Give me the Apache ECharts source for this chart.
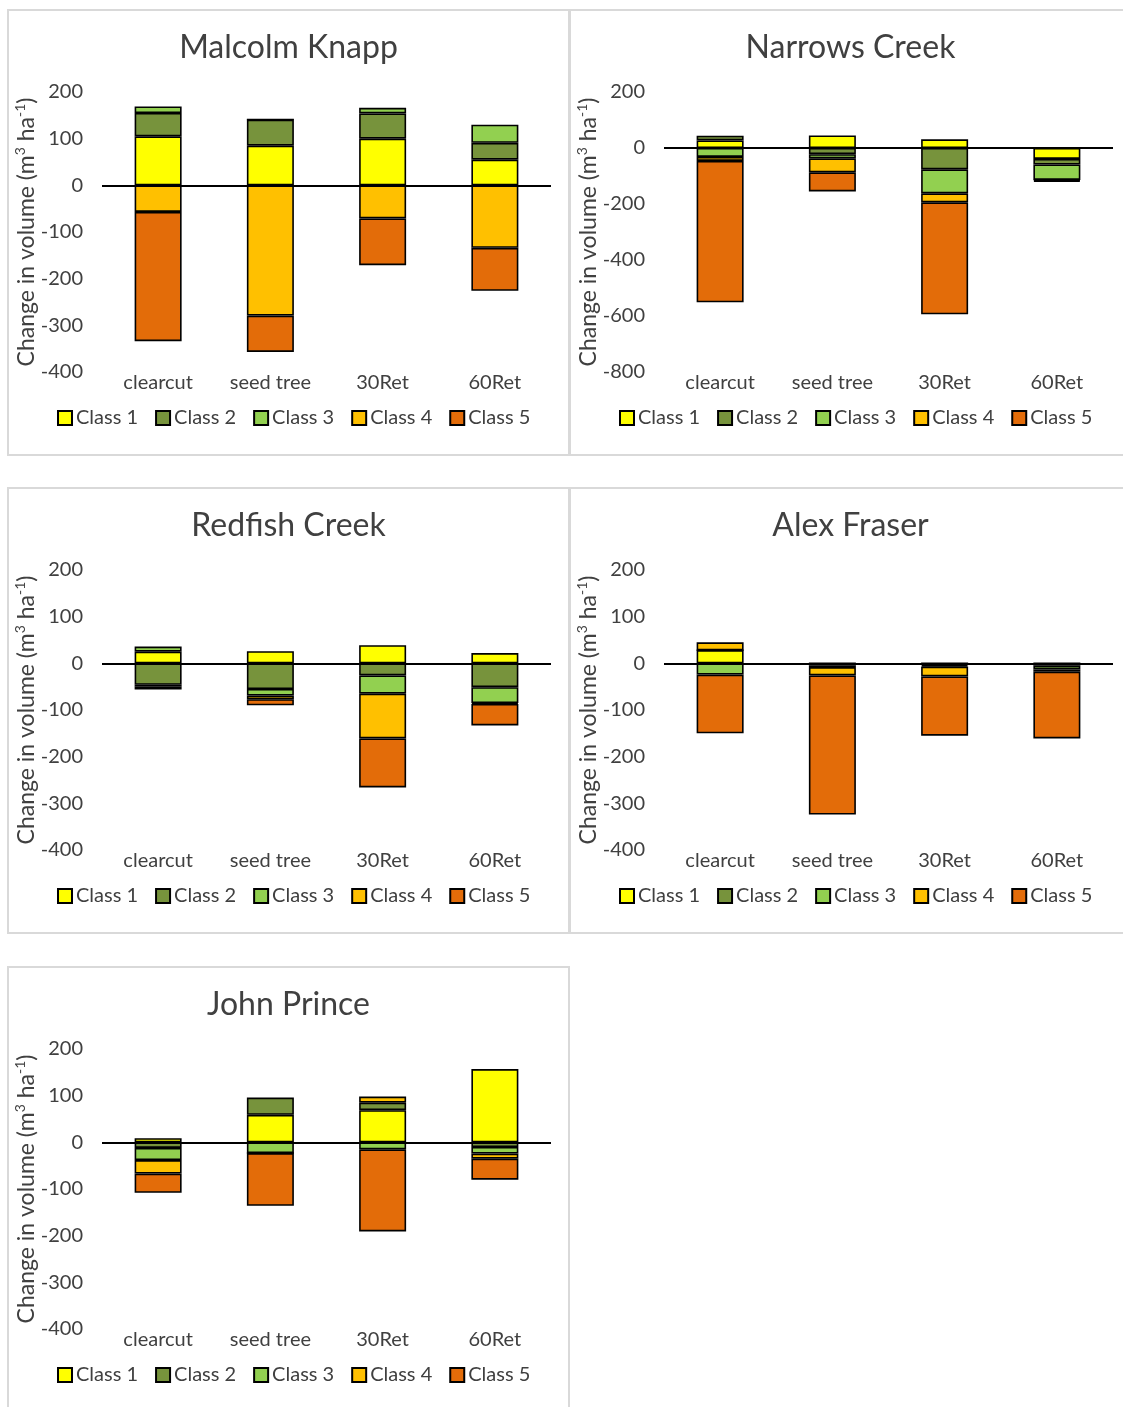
<!DOCTYPE html>
<html>
<head>
<meta charset="UTF-8">
<title>Change in volume by size class</title>
<script src="https://cdn.jsdelivr.net/npm/echarts@6/dist/echarts.min.js"></script>
<style>
	body { margin: 0; background: #fff; overflow: hidden; width: 1123px; height: 1407px; position: relative; }
	.panel { position: absolute; width: 563px; height: 447px; border: 2px solid #d9d9d9; box-sizing: border-box; background: #fff; }
	.chart { width: 100%; height: 100%; }
</style>
</head>
<body>
<div class="panel" style="left:7px;top:9px"><div class="chart" id="c0"></div></div>
<div class="panel" style="left:569px;top:9px"><div class="chart" id="c1"></div></div>
<div class="panel" style="left:7px;top:487px"><div class="chart" id="c2"></div></div>
<div class="panel" style="left:569px;top:487px"><div class="chart" id="c3"></div></div>
<div class="panel" style="left:7px;top:966px"><div class="chart" id="c4"></div></div>
<script>
	var categories = ['clearcut', 'seed tree', '30Ret', '60Ret'];
	var classNames = ['Class 1', 'Class 2', 'Class 3', 'Class 4', 'Class 5'];
	var siteNames = ['Malcolm Knapp', 'Narrows Creek', 'Redfish Creek', 'Alex Fraser', 'John Prince'];

	// one row per class, one value per treatment (m3/ha)
	var malcolmKnapp = [
		[105, 85, 100, 55],
		[50, 56, 54, 36],
		[14, 0, 12, 39],
		[-57, -279, -71, -134],
		[-277, -78, -100, -92]
	];
	var narrowsCreek = [
		[27, 45, 31, -39],
		[17, -22, -76, -20],
		[-32, -15, -86, -55],
		[-14, -50, -32, -3],
		[-505, -68, -400, -4]
	];
	var redfishCreek = [
		[25, 26, 39, 22],
		[-46, -55, -26, -51],
		[11, -14, -39, -34],
		[-4, -8, -96, -2],
		[-6, -13, -105, -46]
	];
	var alexFraser = [
		[28, 0, 0, 0],
		[0, -4, -4, -5],
		[-24, -4, -3, -8],
		[17, -18, -21, -5],
		[-126, -298, -127, -143]
	];
	var johnPrince = [
		[9, 59, 69, 157],
		[-12, 37, 16, -10],
		[-26, -23, -15, -14],
		[-29, 0, 13, -11],
		[-41, -113, -176, -45]
	];

	var yMin = [-400, -800, -400, -400, -400];
	var yMax = [200, 200, 200, 200, 200];
	var yStep = [100, 200, 100, 100, 100];

	var siteValues = [malcolmKnapp, narrowsCreek, redfishCreek, alexFraser, johnPrince];
	var classColors = ['#ffff00', '#77933c', '#92d050', '#ffc000', '#e36c09'];
	var textColor = '#404040';
	var fontName = 'Lato';

	function buildOption(i) {
		var series = classNames.map(function(name, k) {
			var s = {
				name: name,
				type: 'bar',
				stack: 'total',
				barWidth: 47,
				data: siteValues[i][k],
				itemStyle: {
					color: classColors[k],
					borderColor: '#000',
					borderWidth: 1.6
				}
			};
			if(k === 0) {
				// black zero line across the plot
				s.markLine = {
					silent: true,
					symbol: ['none', 'none'],
					label: { show: false },
					lineStyle: { color: '#000', width: 2, type: 'solid' },
					data: [{ yAxis: 0 }]
				};
			}
			return s;
		});

		return {
			animation: false,
			textStyle: { fontFamily: fontName, color: textColor },
			title: {
				text: siteNames[i],
				left: 'center',
				top: 21,
				padding: 0,
				textStyle: { fontFamily: fontName, fontSize: 32, fontWeight: 'normal', color: textColor }
			},
			legend: {
				data: classNames,
				left: 48,
				top: 397,
				padding: 0,
				itemGap: 17,
				itemWidth: 14,
				itemHeight: 14,
				icon: 'rect',
				itemStyle: { borderColor: '#000', borderWidth: 2 },
				textStyle: { fontFamily: fontName, fontSize: 20, color: textColor, padding: [0, 0, 0, -1] }
			},
			grid: { left: 93, top: 81, width: 449, height: 280, outerBoundsMode: 'none' },
			xAxis: {
				type: 'category',
				data: categories,
				axisLine: { show: false, onZero: false },
				axisTick: { show: false },
				axisLabel: { fontFamily: fontName, fontSize: 20, color: textColor, margin: 1, interval: 0 }
			},
			yAxis: {
				type: 'value',
				min: yMin[i],
				max: yMax[i],
				interval: yStep[i],
				splitLine: { show: false },
				axisLine: { show: false },
				axisTick: { show: false },
				axisLabel: { fontFamily: fontName, fontSize: 20, color: textColor, margin: 19 },
				name: '{n|Change in volume (m}{s|3}{n| ha}{s|-1}{n|)}',
				nameLocation: 'middle',
				nameGap: 62,
				nameMoveOverlap: false,
				nameTextStyle: {
					rich: {
						n: { fontFamily: fontName, fontSize: 23, color: textColor, lineHeight: 27 },
						s: { fontFamily: fontName, fontSize: 14, color: textColor, lineHeight: 16, verticalAlign: 'top' }
					}
				}
			},
			series: series
		};
	}

	for(var i = 0; i < siteNames.length; i++) {
		var chart = echarts.init(document.getElementById('c' + i));
		chart.setOption(buildOption(i));
	}
</script>
</body>
</html>
